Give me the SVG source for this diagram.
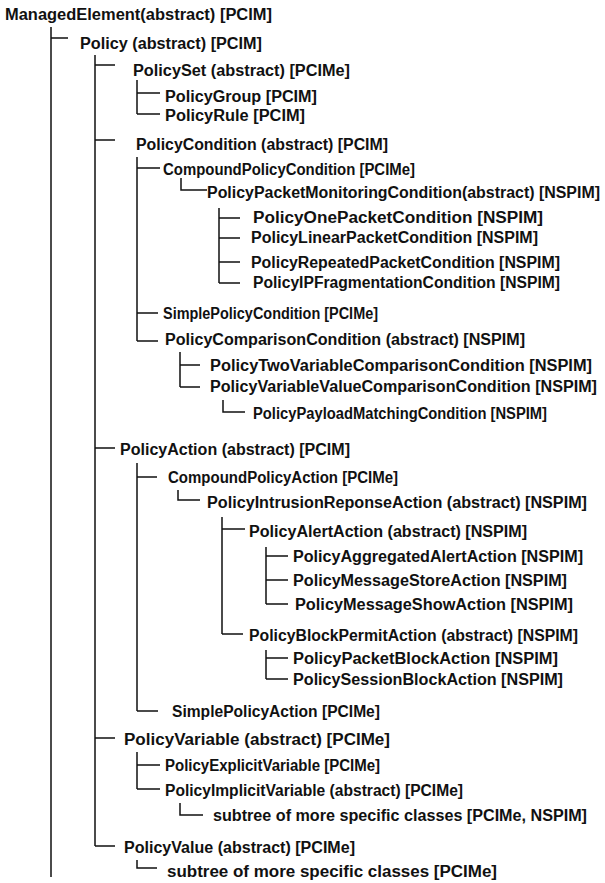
<svg xmlns="http://www.w3.org/2000/svg" width="605" height="883" viewBox="0 0 605 883">
<style>
text{font-family:"Liberation Sans",Arial,sans-serif;font-size:16px;font-weight:bold;fill:#111}
.c{fill:none;stroke:#111;stroke-width:1.5}
</style>
<rect width="605" height="883" fill="#fff"/>
<g id="connectors" class="c">
<path d="M51 27V877M51 38H68"/>
<path d="M95 55V846M95 65H115M95 140H115M95 448H115M95 738H115M95 846H115"/>
<path d="M137 80V114M137 93H160M137 114H160"/>
<path d="M137 157V341M137 168H160M137 313H158M137 341H158"/>
<path d="M181 178V190H207"/>
<path d="M219 208V283M219 218H240M219 238H240M219 262H240M219 283H240"/>
<path d="M180 352V387M180 365H200M180 387H200"/>
<path d="M223 400V412H245"/>
<path d="M137 463V711M137 477H157M137 711H158"/>
<path d="M178 490V500H200"/>
<path d="M222 517V634M222 529H245M222 634H243"/>
<path d="M266 547V604M266 556H288M266 580H288M266 604H288"/>
<path d="M266 650V679M266 658H288M266 679H288"/>
<path d="M137 752V789M137 765H160M137 789H160"/>
<path d="M180 803V815H203"/>
<path d="M137 860V868H157"/>
</g>
<g id="n1"><text x="5" y="20" textLength="267" lengthAdjust="spacingAndGlyphs">ManagedElement(abstract) [PCIM]</text></g>
<g id="n2"><text x="80" y="49" textLength="182" lengthAdjust="spacingAndGlyphs">Policy (abstract) [PCIM]</text></g>
<g id="n3"><text x="133" y="76" textLength="217" lengthAdjust="spacingAndGlyphs">PolicySet (abstract) [PCIMe]</text></g>
<g id="n4"><text x="165" y="102" textLength="152" lengthAdjust="spacingAndGlyphs">PolicyGroup [PCIM]</text></g>
<g id="n5"><text x="165" y="121" textLength="140" lengthAdjust="spacingAndGlyphs">PolicyRule [PCIM]</text></g>
<g id="n6"><text x="136" y="150" textLength="252" lengthAdjust="spacingAndGlyphs">PolicyCondition (abstract) [PCIM]</text></g>
<g id="n7"><text x="163" y="175" textLength="252" lengthAdjust="spacingAndGlyphs">CompoundPolicyCondition [PCIMe]</text></g>
<g id="n8"><text x="207" y="198" textLength="393" lengthAdjust="spacingAndGlyphs">PolicyPacketMonitoringCondition(abstract) [NSPIM]</text></g>
<g id="n9"><text x="253" y="223" textLength="290" lengthAdjust="spacingAndGlyphs">PolicyOnePacketCondition [NSPIM]</text></g>
<g id="n10"><text x="251" y="243" textLength="287" lengthAdjust="spacingAndGlyphs">PolicyLinearPacketCondition [NSPIM]</text></g>
<g id="n11"><text x="251" y="268" textLength="309" lengthAdjust="spacingAndGlyphs">PolicyRepeatedPacketCondition [NSPIM]</text></g>
<g id="n12"><text x="253" y="288" textLength="307" lengthAdjust="spacingAndGlyphs">PolicyIPFragmentationCondition [NSPIM]</text></g>
<g id="n13"><text x="163" y="319" textLength="215" lengthAdjust="spacingAndGlyphs">SimplePolicyCondition  [PCIMe]</text></g>
<g id="n14"><text x="165" y="345" textLength="360" lengthAdjust="spacingAndGlyphs">PolicyComparisonCondition (abstract) [NSPIM]</text></g>
<g id="n15"><text x="210" y="371" textLength="382" lengthAdjust="spacingAndGlyphs">PolicyTwoVariableComparisonCondition [NSPIM]</text></g>
<g id="n16"><text x="210" y="392" textLength="387" lengthAdjust="spacingAndGlyphs">PolicyVariableValueComparisonCondition [NSPIM]</text></g>
<g id="n17"><text x="253" y="419" textLength="294" lengthAdjust="spacingAndGlyphs">PolicyPayloadMatchingCondition [NSPIM]</text></g>
<g id="n18"><text x="120" y="455" textLength="230" lengthAdjust="spacingAndGlyphs">PolicyAction (abstract) [PCIM]</text></g>
<g id="n19"><text x="168" y="483" textLength="230" lengthAdjust="spacingAndGlyphs">CompoundPolicyAction [PCIMe]</text></g>
<g id="n20"><text x="207" y="508" textLength="380" lengthAdjust="spacingAndGlyphs">PolicyIntrusionReponseAction (abstract) [NSPIM]</text></g>
<g id="n21"><text x="249" y="537" textLength="278" lengthAdjust="spacingAndGlyphs">PolicyAlertAction  (abstract) [NSPIM]</text></g>
<g id="n22"><text x="293" y="562" textLength="290" lengthAdjust="spacingAndGlyphs">PolicyAggregatedAlertAction [NSPIM]</text></g>
<g id="n23"><text x="293" y="586" textLength="274" lengthAdjust="spacingAndGlyphs">PolicyMessageStoreAction [NSPIM]</text></g>
<g id="n24"><text x="295" y="610" textLength="278" lengthAdjust="spacingAndGlyphs">PolicyMessageShowAction [NSPIM]</text></g>
<g id="n25"><text x="249" y="641" textLength="329" lengthAdjust="spacingAndGlyphs">PolicyBlockPermitAction  (abstract) [NSPIM]</text></g>
<g id="n26"><text x="293" y="664" textLength="265" lengthAdjust="spacingAndGlyphs">PolicyPacketBlockAction  [NSPIM]</text></g>
<g id="n27"><text x="293" y="685" textLength="270" lengthAdjust="spacingAndGlyphs">PolicySessionBlockAction  [NSPIM]</text></g>
<g id="n28"><text x="172" y="717" textLength="208" lengthAdjust="spacingAndGlyphs">SimplePolicyAction  [PCIMe]</text></g>
<g id="n29"><text x="124" y="745" textLength="266" lengthAdjust="spacingAndGlyphs">PolicyVariable  (abstract) [PCIMe]</text></g>
<g id="n30"><text x="165" y="771" textLength="215" lengthAdjust="spacingAndGlyphs">PolicyExplicitVariable  [PCIMe]</text></g>
<g id="n31"><text x="165" y="796" textLength="298" lengthAdjust="spacingAndGlyphs">PolicyImplicitVariable  (abstract) [PCIMe]</text></g>
<g id="n32"><text x="213" y="821" textLength="374" lengthAdjust="spacingAndGlyphs">subtree of more specific classes [PCIMe, NSPIM]</text></g>
<g id="n33"><text x="124" y="853" textLength="231" lengthAdjust="spacingAndGlyphs">PolicyValue (abstract) [PCIMe]</text></g>
<g id="n34"><text x="167" y="877" textLength="330" lengthAdjust="spacingAndGlyphs">subtree of more specific classes [PCIMe]</text></g>
</svg>
